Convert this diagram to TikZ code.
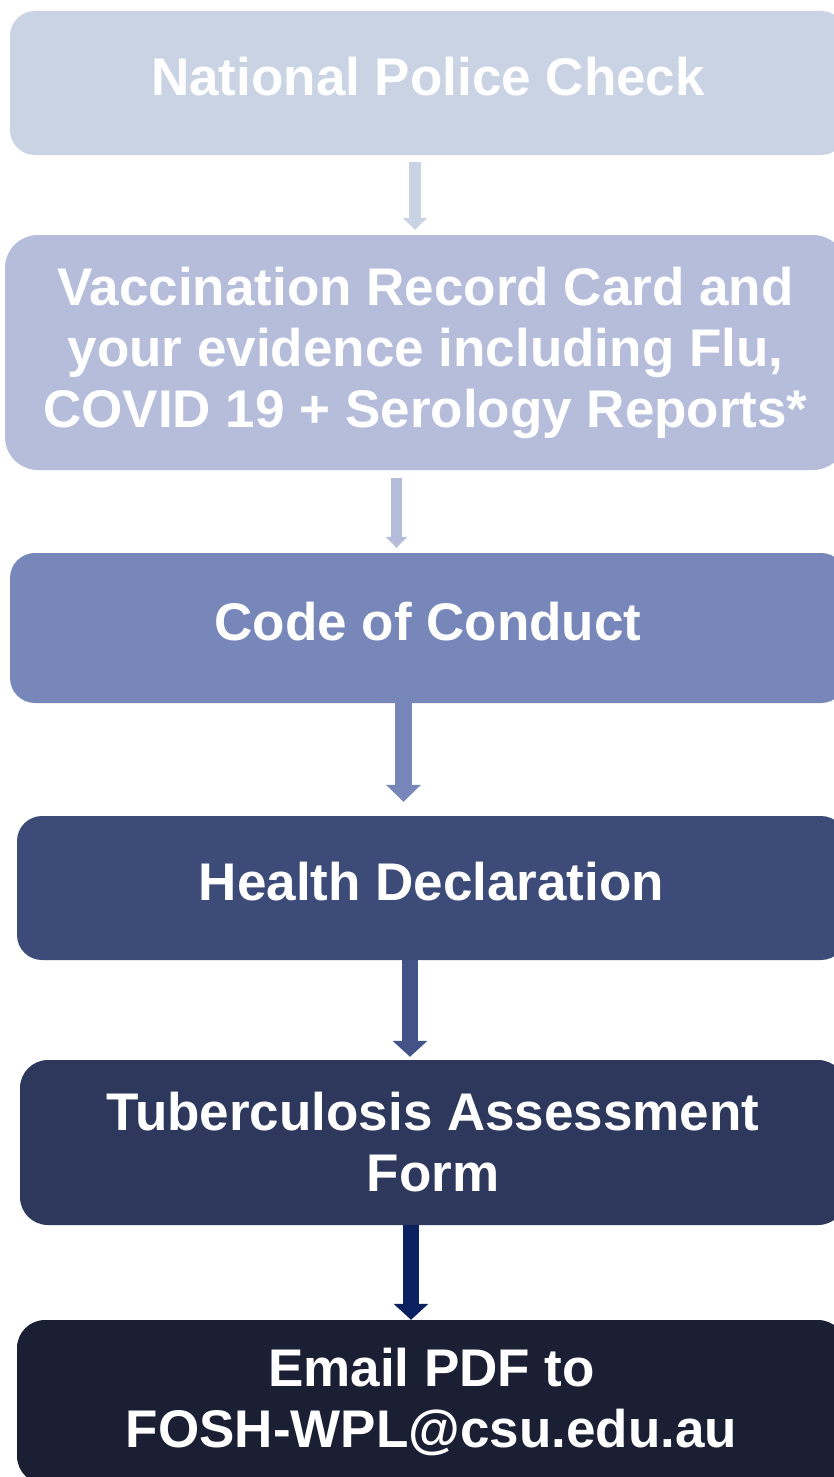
\documentclass[tikz,border=0pt]{standalone}
\usepackage{fontspec}
\setmainfont{Liberation Sans}
\usetikzlibrary{arrows.meta,positioning}
\definecolor{policec}{HTML}{CAD3E4}
\definecolor{vaccc}{HTML}{B5BDDB}
\definecolor{conductc}{HTML}{7887BA}
\definecolor{healthc}{HTML}{3D4B78}
\definecolor{healtharr}{HTML}{435388}
\definecolor{tbc}{HTML}{2E385C}
\definecolor{tbarr}{HTML}{0C2160}
\definecolor{emailc}{HTML}{1B1F33}

\begin{document}
\begin{tikzpicture}[x=1pt,y=-1pt,
  stepbox/.style={rectangle,rounded corners=25pt,inner sep=0pt,text=white,align=center,
    font=\fontsize{53}{61}\selectfont\bfseries,execute at begin node=#1},
  stepbox/.default=\strut,
  flow/.style args={#1,#2,#3}{draw=#1,line width=#2,-{Triangle[width=#3,length=#2]}}]
\useasboundingbox (0,0) rectangle (834,1477);
\clip (0,0) rectangle (834,1477);
\node[stepbox,fill=policec,minimum width=836pt,minimum height=144pt] (police) at (428,83) {National Police Check};
\node[stepbox={\rule{0pt}{63pt}},fill=vaccc,rounded corners=33pt,minimum width=841pt,minimum height=235pt] (vacc) at (425.5,352.5) {Vaccination Record Card and\\your evidence including Flu,\\COVID 19 + Serology Reports*};
\node[stepbox,fill=conductc,minimum width=836pt,minimum height=150pt] (conduct) at (428,628) {Code of Conduct};
\node[stepbox,fill=healthc,minimum width=829pt,minimum height=144pt] (health) at (431.5,888) {Health Declaration};
\node[stepbox={\rule{0pt}{57pt}},fill=tbc,rounded corners=28pt,minimum width=826pt,minimum height=165pt] (tb) at (433,1142.5) {Tuberculosis Assessment\\Form};
\node[stepbox={\rule{0pt}{68pt}},fill=emailc,rounded corners=28pt,minimum width=829pt,minimum height=164pt] (email) at (431.5,1402) {Email PDF to\\FOSH-WPL@csu.edu.au};
\draw[flow={policec,12pt,24pt},shorten <=7pt,shorten >=5pt] ([xshift=-13pt]police.south) -- ([xshift=-10.5pt]vacc.north);
\draw[flow={vaccc,11pt,21pt},shorten <=8pt,shorten >=5pt] ([xshift=-29pt]vacc.south) -- ([xshift=-31.5pt]conduct.north);
\draw[flow={conductc,17pt,34pt},shorten >=14pt] ([xshift=-24.5pt]conduct.south) -- ([xshift=-28pt]health.north);
\draw[flow={healtharr,16pt,34pt},shorten >=3pt] ([xshift=-21.5pt]health.south) -- ([xshift=-23pt]tb.north);
\draw[flow={tbarr,16pt,34pt}] ([xshift=-22pt]tb.south) -- ([xshift=-20.5pt]email.north);
\end{tikzpicture}
\end{document}
